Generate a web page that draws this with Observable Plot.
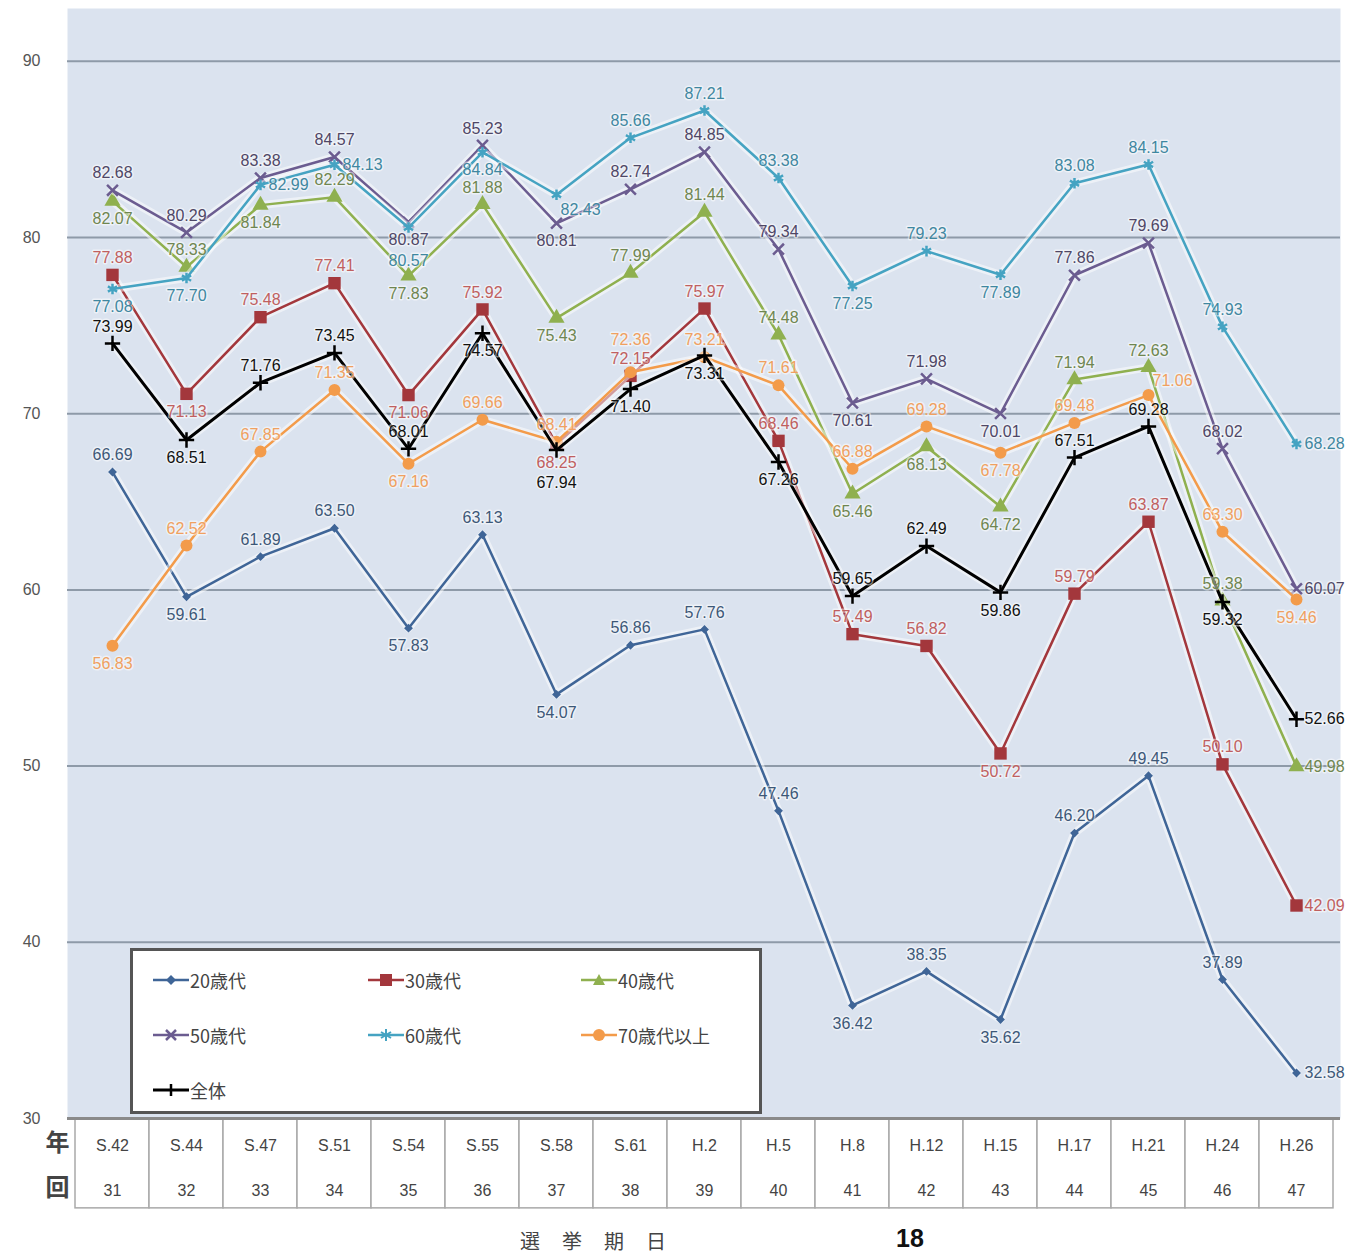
<!DOCTYPE html>
<html><head><meta charset="utf-8">
<script src="https://cdn.jsdelivr.net/npm/d3@7"></script>
<script src="https://cdn.jsdelivr.net/npm/@observablehq/plot@0.6"></script>
<style>
body{margin:0;background:#fff;font-family:"Liberation Sans","Noto Sans CJK JP",sans-serif;}
#wrap{position:relative;width:1365px;height:1257px;}
#legend{position:absolute;left:130px;top:948px;width:626px;height:160px;background:#fff;border:3px solid #555;box-sizing:content-box;}
.li{position:absolute;display:flex;align-items:center;font-family:"Noto Sans CJK JP",sans-serif;font-size:18px;color:#444;}
#cap{position:absolute;left:0;top:1212px;width:1365px;height:45px;}
</style></head><body>
<div id="wrap"><div id="chart"></div><div id="legend"></div><div id="cap">
<div style="position:absolute;left:520px;top:14px;font-family:'Noto Sans CJK JP';font-size:20px;color:#444;letter-spacing:22px;">選挙期日</div>
<div style="position:absolute;left:896px;top:12px;font-family:'Liberation Sans';font-size:25px;font-weight:bold;color:#111;">18</div>
</div></div>
<script>
const years = ["S.42","S.44","S.47","S.51","S.54","S.55","S.58","S.61","H.2","H.5","H.8","H.12","H.15","H.17","H.21","H.24","H.26"];
const kai = [31,32,33,34,35,36,37,38,39,40,41,42,43,44,45,46,47];
const seriesNames = ["20歳代","30歳代","40歳代","50歳代","60歳代","70歳代以上","全体"];
const v20 = [66.69,59.61,61.89,63.50,57.83,63.13,54.07,56.86,57.76,47.46,36.42,38.35,35.62,46.20,49.45,37.89,32.58];
const v30 = [77.88,71.13,75.48,77.41,71.06,75.92,68.25,72.15,75.97,68.46,57.49,56.82,50.72,59.79,63.87,50.10,42.09];
const v40 = [82.07,78.33,81.84,82.29,77.83,81.88,75.43,77.99,81.44,74.48,65.46,68.13,64.72,71.94,72.63,59.38,49.98];
const v50 = [82.68,80.29,83.38,84.57,80.87,85.23,80.81,82.74,84.85,79.34,70.61,71.98,70.01,77.86,79.69,68.02,60.07];
const v60 = [77.08,77.70,82.99,84.13,80.57,84.84,82.43,85.66,87.21,83.38,77.25,79.23,77.89,83.08,84.15,74.93,68.28];
const v70 = [56.83,62.52,67.85,71.35,67.16,69.66,68.41,72.36,73.21,71.61,66.88,69.28,67.78,69.48,71.06,63.30,59.46];
const vAll = [73.99,68.51,71.76,73.45,68.01,74.57,67.94,71.40,73.31,67.26,59.65,62.49,59.86,67.51,69.28,59.32,52.66];
const yTicks = [30,40,50,60,70,80,90];

const seriesValues = [v20,v30,v40,v50,v60,v70,vAll];
const styles = [
  {color:"#3f6597", label:"#3d5878", symbol:"diamond2", r:4, fill:true, w:2.5},
  {color:"#a3373c", label:"#c0605f", symbol:"square", r:7, fill:true, w:2.5},
  {color:"#8fb04f", label:"#6f8650", symbol:"triangle", r:6, fill:true, w:2.5},
  {color:"#6b5c90", label:"#4f4766", symbol:"times", r:5, fill:false, w:2.5},
  {color:"#45a3c2", label:"#3f87a0", symbol:"asterisk", r:5, fill:false, w:2.5},
  {color:"#f39b4a", label:"#f0a060", symbol:"circle", r:6, fill:true, w:2.5},
  {color:"#000000", label:"#111111", symbol:"plus", r:5, fill:false, w:3}
];

// layout geometry (used for label collision avoidance)
const W = 1365, H = 1212, ML = 67, MR = 25, MT = 8, MB = 94, Y0 = 30, Y1 = 93;
const bw = (W - ML - MR) / years.length;
const px = i => ML + (i + 0.5) * bw;
const py = v => MT + (Y1 - v) / (Y1 - Y0) * (H - MT - MB);

const rows = [];
seriesValues.forEach((vals, s) => vals.forEach((v, i) => {
  const p = vals[i-1], n = vals[i+1];
  let pos;
  if (n === undefined) pos = "right";
  else if (p === undefined) pos = v >= n ? "above" : "below";
  else if (v <= p && v <= n) pos = "below";
  else pos = "above";
  rows.push({s, i, name: seriesNames[s], year: years[i], v, pos});
}));

// candidate label offsets
const cands = {
  above: {dx:0, dy:-17, anchor:"middle"},
  below: {dx:0, dy:18, anchor:"middle"},
  right: {dx:8, dy:0, anchor:"start"},
  left: {dx:-8, dy:0, anchor:"end"},
  aboveR: {dx:24, dy:-14, anchor:"middle"},
  belowR: {dx:24, dy:15, anchor:"middle"},
  aboveL: {dx:-24, dy:-14, anchor:"middle"},
  belowL: {dx:-24, dy:15, anchor:"middle"},
  above2: {dx:0, dy:-32, anchor:"middle"},
  below2: {dx:0, dy:33, anchor:"middle"}
};
const LW = 41, LH = 15;
const boxOf = (r, c) => {
  const x = px(r.i) + c.dx, y = py(r.v) + c.dy;
  const x0 = c.anchor === "middle" ? x - LW/2 : c.anchor === "start" ? x : x - LW;
  return [x0, y - LH/2, x0 + LW, y + LH/2];
};
const hit = (a, b) => a[0] < b[2] && b[0] < a[2] && a[1] < b[3] && b[1] < a[3];
const placed = [];
const pointBoxes = rows.map(r => [px(r.i)-5, py(r.v)-5, px(r.i)+5, py(r.v)+5]);
const legendBox = [130, 948, 762, 1114];
rows.forEach(r => {
  const order = r.pos === "right"
    ? ["right","below","above","belowL","aboveL","below2","above2"]
    : r.pos === "above"
      ? ["above","aboveR","aboveL","below","belowR","belowL","right","left","above2","below2"]
      : ["below","belowR","belowL","above","aboveR","aboveL","right","left","below2","above2"];
  let best = null, bestScore = Infinity;
  for (const k of order) {
    const b = boxOf(r, cands[k]);
    let score = 0;
    if (b[2] > W - 2) score += 100;
    if (b[0] < ML) score += 100;
    if (hit(b, legendBox)) score += 100;
    for (const p of placed) if (hit(b, p)) score += 10;
    pointBoxes.forEach((p, j) => { if (hit(b, p)) score += 1; });
    if (score < bestScore) { bestScore = score; best = k; }
    if (score === 0) break;
  }
  r.cand = best;
  placed.push(boxOf(r, cands[best]));
});

const marks = [
  Plot.frame({fill:"#dbe3ef", stroke:null}),
  Plot.gridY({ticks:[40,50,60,70,80,90], stroke:"#8e9aa8", strokeOpacity:1, strokeWidth:2}),
  Plot.barY(years, {x: d => d, y1: 30, y2: 24.9, fill:"#fff", stroke:"#a9a9a9", strokeWidth:1.5, inset:0}),
  Plot.ruleY([30], {stroke:"#8a8a8a", strokeWidth:3}),
  Plot.axisY({ticks: yTicks, tickSize:0, tickPadding:27, fontSize:16, fill:"#555", label:null}),
  Plot.text(years, {x: d => d, frameAnchor:"bottom", dy:32, text: d => d, fontSize:16, fill:"#444"}),
  Plot.text(years, {x: d => d, frameAnchor:"bottom", dy:77, text: (d,i) => String(kai[i]), fontSize:16, fill:"#444"}),
  Plot.text(["年"], {frameAnchor:"bottom-left", dx:-22, dy:32, fontSize:24, fontWeight:"bold", fill:"#444", fontFamily:"Noto Sans CJK JP"}),
  Plot.text(["回"], {frameAnchor:"bottom-left", dx:-22, dy:77, fontSize:24, fontWeight:"bold", fill:"#444", fontFamily:"Noto Sans CJK JP"})
];
styles.forEach((st, s) => {
  const d = rows.filter(r => r.s === s);
  marks.push(Plot.line(d, {x:"year", y:"v", stroke:"#ffffff", strokeWidth:8, strokeOpacity:0.5}));
  marks.push(Plot.line(d, {x:"year", y:"v", stroke:st.color, strokeWidth:st.w}));
  marks.push(Plot.dot(d, {x:"year", y:"v", symbol:st.symbol, r:st.r,
    fill: st.fill ? st.color : "none", stroke: st.fill ? "none" : st.color, strokeWidth: st.fill ? 0 : 2.5}));
});
styles.forEach((st, s) => {
  const d = rows.filter(r => r.s === s);
  for (const [k, c] of Object.entries(cands)) {
    const sub = d.filter(r => r.cand === k);
    if (!sub.length) continue;
    marks.push(Plot.text(sub, {x:"year", y:"v", text: r => r.v.toFixed(2), fill: st.label, fontSize:16,
      stroke:"#ffffff", strokeOpacity:0.5, strokeWidth:3, paintOrder:"stroke",
      dx:c.dx, dy:c.dy, textAnchor:c.anchor}));
  }
});

const chart = Plot.plot({
  width: W, height: H,
  marginLeft: ML, marginRight: MR, marginTop: MT, marginBottom: MB,
  style: {fontFamily: "'Liberation Sans','Noto Sans CJK JP',sans-serif", background:"#fff"},
  x: {type:"band", domain: years, padding:0, axis:null},
  y: {domain:[Y0, Y1], axis:null},
  marks
});
document.getElementById("chart").appendChild(chart);

// legend
const lg = document.getElementById("legend");
const symSvg = (st) => {
  const c = st.color, cx = 18, cy = 10;
  let m = "";
  if (st.symbol === "diamond2") m = `<path d="M${cx} ${cy-5}L${cx+5} ${cy}L${cx} ${cy+5}L${cx-5} ${cy}Z" fill="${c}"/>`;
  else if (st.symbol === "square") m = `<rect x="${cx-6}" y="${cy-6}" width="12" height="12" fill="${c}"/>`;
  else if (st.symbol === "triangle") m = `<path d="M${cx} ${cy-6}L${cx+6} ${cy+5}L${cx-6} ${cy+5}Z" fill="${c}"/>`;
  else if (st.symbol === "times") m = `<path d="M${cx-5} ${cy-5}L${cx+5} ${cy+5}M${cx+5} ${cy-5}L${cx-5} ${cy+5}" stroke="${c}" stroke-width="2.5"/>`;
  else if (st.symbol === "asterisk") m = `<path d="M${cx} ${cy-6}V${cy+6}M${cx-5} ${cy-3}L${cx+5} ${cy+3}M${cx+5} ${cy-3}L${cx-5} ${cy+3}" stroke="${c}" stroke-width="2"/>`;
  else if (st.symbol === "circle") m = `<circle cx="${cx}" cy="${cy}" r="6" fill="${c}"/>`;
  else m = `<path d="M${cx} ${cy-6}V${cy+6}" stroke="${c}" stroke-width="2.5"/>`;
  return `<svg width="36" height="20"><line x1="0" y1="${cy}" x2="36" y2="${cy}" stroke="${c}" stroke-width="${st.w}"/>${m}</svg>`;
};
const colX = [20, 235, 448], rowY = [16, 71, 126];
seriesNames.forEach((n, i) => {
  const el = document.createElement("div");
  el.className = "li";
  el.style.left = colX[i % 3] + "px";
  el.style.top = rowY[Math.floor(i / 3)] + "px";
  el.innerHTML = symSvg(styles[i]) + `<span style="margin-left:1px">${n}</span>`;
  lg.appendChild(el);
});
</script>
</body></html>
